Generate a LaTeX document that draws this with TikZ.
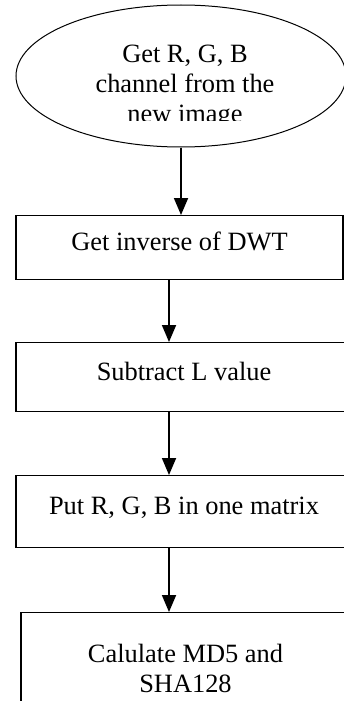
\documentclass[tikz,border=0pt]{standalone}
\usepackage{fontspec}
\setmainfont{Liberation Serif}
\usetikzlibrary{shapes.geometric,arrows.meta}

\begin{document}
\begin{tikzpicture}[x=1pt,y=-1pt,
  every node/.style={font=\fontsize{26.4}{30}\selectfont},
  procbox/.style={draw,line width=1.1pt,rectangle,inner sep=0pt,anchor=north},
  oneline/.style={text height=18pt,text depth=12pt},
  flow/.style={line width=1.8pt,-{Triangle[length=17pt,width=14pt]}}]
  \useasboundingbox (0,0) rectangle (344,701);
  % start of the flow
  \node[draw,ellipse,line width=1pt,inner sep=0pt,minimum width=330pt,minimum height=142pt] (start) at (181,76) {};
  \begin{scope}
    \clip (0,0) rectangle (344,120);
    \node[align=center,inner sep=0pt,anchor=north] (startText) at (185,44.4) {Get R, G, B\\channel from the\\new image};
  \end{scope}
  % steps
  \node[procbox,oneline,minimum width=327pt,minimum height=64pt] (inv) at (179.5,215) {Get inverse of DWT};
  \node[procbox,oneline,minimum width=336pt,minimum height=69pt] (sub) at (184,342) {Subtract L value};
  \node[procbox,oneline,minimum width=336pt,minimum height=72pt] (merge) at (184,475) {Put R, G, B in one matrix};
  \node[procbox,align=center,minimum width=329pt,minimum height=112pt] (hash) at (185.5,612) {Calulate MD5 and\\SHA128};
  % connectors
  \coordinate (spine) at (169,0);
  \draw[flow] (start.south) -- (start.south |- inv.north);
  \draw[flow] (spine |- inv.south) -- (spine |- sub.north);
  \draw[flow] (spine |- sub.south) -- (spine |- merge.north);
  \draw[flow] (spine |- merge.south) -- (spine |- hash.north);
\end{tikzpicture}
\end{document}
